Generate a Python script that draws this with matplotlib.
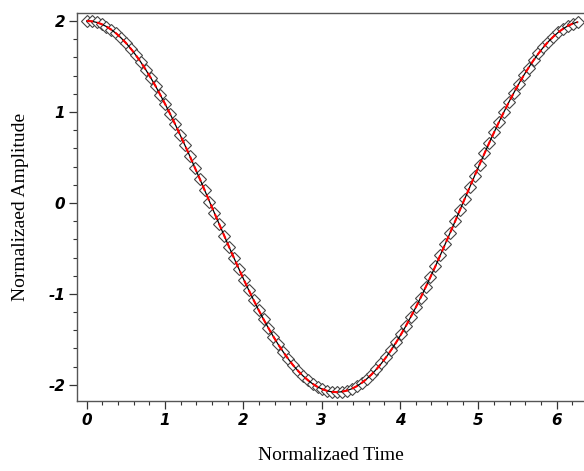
import matplotlib
matplotlib.use("Agg")
import matplotlib.pyplot as plt
from matplotlib.ticker import MultipleLocator

# normalized time samples
t = [0.000, 0.063, 0.125, 0.188, 0.251, 0.313, 0.376, 0.439, 0.502, 0.564,
     0.627, 0.690, 0.752, 0.815, 0.878, 0.940, 1.003, 1.066, 1.129, 1.191,
     1.254, 1.317, 1.379, 1.442, 1.505, 1.567, 1.630, 1.693, 1.756, 1.818,
     1.881, 1.944, 2.006, 2.069, 2.132, 2.194, 2.257, 2.320, 2.383, 2.445,
     2.508, 2.571, 2.633, 2.696, 2.759, 2.822, 2.884, 2.947, 3.010, 3.072,
     3.135, 3.198, 3.260, 3.323, 3.386, 3.449, 3.511, 3.574, 3.637, 3.699,
     3.762, 3.825, 3.887, 3.950, 4.013, 4.076, 4.138, 4.201, 4.264, 4.326,
     4.389, 4.452, 4.514, 4.577, 4.640, 4.703, 4.765, 4.828, 4.891, 4.953,
     5.016, 5.079, 5.141, 5.204, 5.267, 5.330, 5.392, 5.455, 5.518, 5.580,
     5.643, 5.706, 5.768, 5.831, 5.894, 5.957, 6.019, 6.082, 6.145, 6.207,
     6.270]

# normalized amplitude
amp = [2.000, 1.996, 1.984, 1.965, 1.938, 1.904, 1.862, 1.812, 1.756, 1.693,
       1.623, 1.547, 1.465, 1.377, 1.284, 1.185, 1.082, 0.975, 0.864, 0.749,
       0.632, 0.512, 0.389, 0.266, 0.140, 0.015, -0.111, -0.237, -0.362, -0.486,
       -0.608, -0.728, -0.845, -0.959, -1.070, -1.176, -1.279, -1.376, -1.469, -1.556,
       -1.637, -1.713, -1.782, -1.844, -1.899, -1.947, -1.988, -2.022, -2.048, -2.066,
       -2.077, -2.080, -2.075, -2.062, -2.042, -2.014, -1.978, -1.935, -1.885, -1.828,
       -1.764, -1.693, -1.617, -1.534, -1.445, -1.351, -1.252, -1.149, -1.041, -0.929,
       -0.814, -0.696, -0.576, -0.453, -0.329, -0.204, -0.078, 0.048, 0.174, 0.298,
       0.422, 0.544, 0.663, 0.780, 0.894, 1.004, 1.110, 1.212, 1.309, 1.401,
       1.487, 1.568, 1.642, 1.710, 1.772, 1.826, 1.873, 1.913, 1.946, 1.971,
       1.988]

plt.rcParams["axes.unicode_minus"] = False

fig = plt.figure(figsize=(5.84, 4.71), dpi=100)
ax = fig.add_axes([0.132, 0.149, 0.868, 0.823])

# diamonds, then a thin black trace and the red dashed trace on top
ax.plot(t, amp, linestyle="none", marker="D", markersize=6.5,
        markerfacecolor="white", markeredgecolor="#444444",
        markeredgewidth=0.8, zorder=2)
ax.plot(t, amp, color="black", linewidth=0.9, zorder=3)
ax.plot(t, amp, color="red", linewidth=1.5, dashes=(3, 2), zorder=4)

ax.set_xlim(-0.124, 6.35)
ax.set_ylim(-2.175, 2.085)

ax.xaxis.set_major_locator(MultipleLocator(1))
ax.xaxis.set_minor_locator(MultipleLocator(0.2))
ax.yaxis.set_major_locator(MultipleLocator(1))
ax.yaxis.set_minor_locator(MultipleLocator(0.2))

ax.spines["right"].set_visible(False)
for s in ["left", "bottom", "top"]:
    ax.spines[s].set_color("#555555")
    ax.spines[s].set_linewidth(1.0)

ax.tick_params(which="major", direction="out", length=5.5, width=0.9,
               color="#333333", pad=3)
ax.tick_params(which="minor", direction="out", length=2.8, width=0.8,
               color="#333333")
for lab in ax.get_xticklabels() + ax.get_yticklabels():
    lab.set_fontfamily("DejaVu Sans")
    lab.set_fontweight("bold")
    lab.set_fontstyle("italic")
    lab.set_fontsize(11)

ax.set_xlabel("Normalizaed Time", fontfamily="Liberation Serif", fontsize=14)
ax.set_ylabel("Normalizaed Amplitude", fontfamily="Liberation Serif", fontsize=14)
ax.xaxis.set_label_coords(0.5, -0.12)
ax.yaxis.set_label_coords(-0.094, 0.5)

fig.savefig("out.png", dpi=100)
